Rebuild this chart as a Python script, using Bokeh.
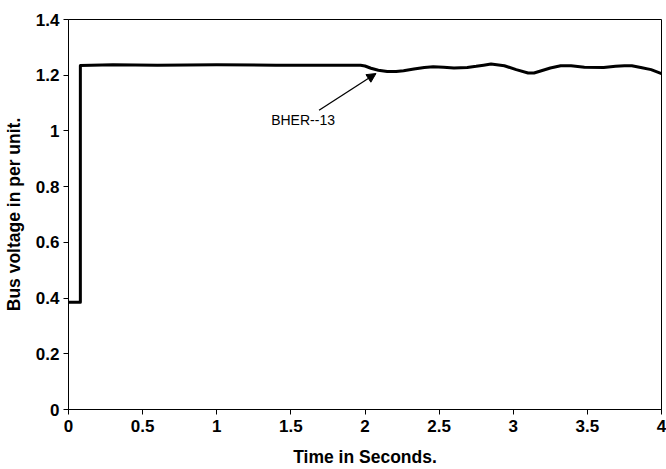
from bokeh.plotting import figure
from bokeh.embed import file_html
from bokeh.resources import INLINE
from bokeh.models import Arrow, NormalHead, Label, FixedTicker, Range1d

time_s = [0.0, 0.08, 0.08, 0.3, 0.6, 1.0, 1.4, 1.70, 1.97, 2.00, 2.04, 2.09, 2.15, 2.21, 2.26,
          2.33, 2.40, 2.46, 2.53, 2.60, 2.69, 2.75, 2.80, 2.85, 2.94, 3.02, 3.10, 3.14, 3.19,
          3.25, 3.32, 3.39, 3.48, 3.61, 3.69, 3.75, 3.80, 3.86, 3.93, 4.0]
voltage = [0.385, 0.385, 1.235, 1.238, 1.236, 1.238, 1.236, 1.236, 1.236, 1.233, 1.225, 1.218,
           1.213, 1.213, 1.216, 1.222, 1.228, 1.230, 1.229, 1.226, 1.228, 1.232, 1.236, 1.240,
           1.234, 1.220, 1.208, 1.208, 1.216, 1.226, 1.234, 1.234, 1.229, 1.228, 1.232, 1.234,
           1.234, 1.228, 1.220, 1.206]
x_ticks = [0, 0.5, 1, 1.5, 2, 2.5, 3, 3.5, 4]
y_ticks = [0, 0.2, 0.4, 0.6, 0.8, 1, 1.2, 1.4]
label_text = "BHER--13"

p = figure(width=666, height=469, output_backend="svg", toolbar_location=None,
           x_range=Range1d(0, 4), y_range=Range1d(0, 1.4),
           min_border_left=67, min_border_right=5, min_border_top=19, min_border_bottom=59)
p.background_fill_color = "white"
p.border_fill_color = "white"
p.outline_line_color = "black"
p.outline_line_width = 1
p.xgrid.visible = False
p.ygrid.visible = False

p.line(time_s, voltage, line_color="black", line_width=3, line_join="round")

for ax in (p.xaxis[0], p.yaxis[0]):
    ax.axis_line_color = "black"
    ax.major_tick_out = 5
    ax.major_tick_in = 0
    ax.minor_tick_line_color = None
    ax.major_label_text_font = "Liberation Sans"
    ax.major_label_text_font_style = "bold"
    ax.major_label_text_font_size = "17px"
    ax.major_label_text_color = "black"
    ax.axis_label_text_font = "Liberation Sans"
    ax.axis_label_text_font_style = "bold"
    ax.axis_label_text_font_size = "17.5px"
    ax.axis_label_text_color = "black"

p.xaxis.ticker = FixedTicker(ticks=x_ticks)
p.yaxis.ticker = FixedTicker(ticks=y_ticks)
p.xaxis.major_label_overrides = {t: ("%g" % t) for t in x_ticks}
p.yaxis.major_label_overrides = {t: ("%g" % t) for t in y_ticks}
p.xaxis.axis_label = "Time in Seconds."
p.yaxis.axis_label = "Bus voltage in per unit."
p.xaxis.major_label_standoff = 5
p.yaxis.major_label_standoff = 4
p.xaxis.axis_label_standoff = 12
p.yaxis.axis_label_standoff = 9

p.add_layout(Arrow(end=NormalHead(size=9, fill_color="black", line_color="black"),
                   x_start=1.69, y_start=1.074, x_end=2.074, y_end=1.206,
                   line_color="black", line_width=1.3))
p.add_layout(Label(x=1.367, y=1.038, text=label_text, text_font="Liberation Sans",
                   text_font_size="14px", text_baseline="middle", text_color="black"))

open("out.html", "w").write(file_html(p, INLINE))
